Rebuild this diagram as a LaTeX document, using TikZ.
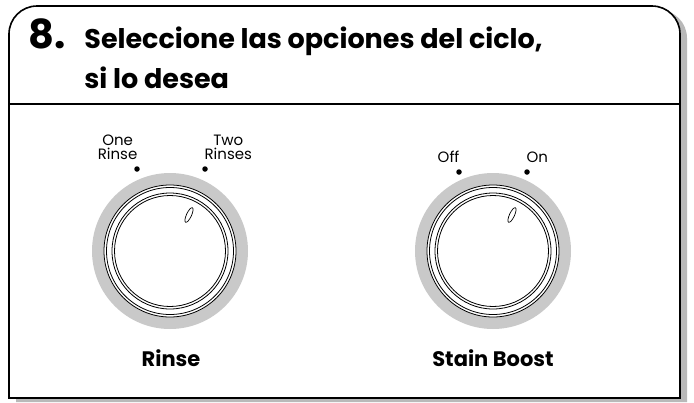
\documentclass[tikz,border=0pt]{standalone}
\usepackage{fontspec}
\setmainfont{Poppins}
\usetikzlibrary{positioning,shapes.geometric}

\tikzset{
  optlabel/.style={font=\fontsize{15}{13.5}\selectfont, align=center, inner sep=0pt},
  dialname/.style={font=\bfseries\fontsize{21}{21}\selectfont, inner sep=0pt},
  headline/.style={anchor=base west, inner sep=0pt, font=\bfseries\fontsize{27}{27}\selectfont},
  markdot/.style={circle, fill=black, inner sep=0pt, minimum size=5.5pt},
  pointer/.style={draw, ellipse, line width=0.7pt, inner sep=0pt, minimum width=5pt, minimum height=16pt, rotate=-25}
}

\begin{document}
\begin{tikzpicture}[x=1pt, y=-1pt, line width=0.8pt]
  \useasboundingbox (0,0) rectangle (694,402);

  % frame with shadow
  \fill[gray!55] (16,402) [rounded corners=28pt]-- (16,10) -- (687,10) [sharp corners]-- (687,402) -- cycle;
  \draw[line width=1.6pt, fill=white] (9,398) [rounded corners=28pt]-- (9,6) -- (680,6) [sharp corners]-- (680,398) -- cycle;
  \draw[line width=1.4pt] (9,104) -- (680,104);

  % heading
  \node[anchor=base west, inner sep=0pt, font=\bfseries\fontsize{40}{40}\selectfont] (num) at (28,48) {8.};
  \node[headline] (head1) at (84,48) {Seleccione las opciones del ciclo,};
  \node[headline] (head2) at ([yshift=-40pt]head1.base west) {si lo desea};

  % knobs
  \foreach \name/\x in {rinse/170, stain/493} {
    \coordinate (\name) at (\x,251);
    \fill[gray!42] (\name) circle (78);
    \draw[fill=white] (\name) circle (66);
    \draw (\name) circle (63.5);
    \draw (\name) circle (58);
    \draw (\name) circle (55.5);
    \node[pointer] (\name ptr) at ([shift={(19,-36)}]\name) {};
  }

  \node[markdot] (one)  at ([shift={(-33,-82)}]rinse) {};
  \node[markdot] (two)  at ([shift={(35,-82)}]rinse) {};
  \node[markdot] (off)  at ([shift={(-34,-79)}]stain) {};
  \node[markdot] (on)   at ([shift={(34,-79)}]stain) {};

  \node[optlabel, above left=7pt and -3pt of one]  (onelbl) {One\\Rinse};
  \node[optlabel, above right=7pt and -3pt of two] (twolbl) {Two\\Rinses};
  \node[optlabel, above left=7pt and -3pt of off]  (offlbl) {Off};
  \node[optlabel, above right=7pt and -3pt of on]  (onlbl)  {On};

  \node[dialname] (rinsename) at (171,358) {Rinse};
  \node[dialname] (stainname) at (493,358) {Stain Boost};
\end{tikzpicture}
\end{document}
